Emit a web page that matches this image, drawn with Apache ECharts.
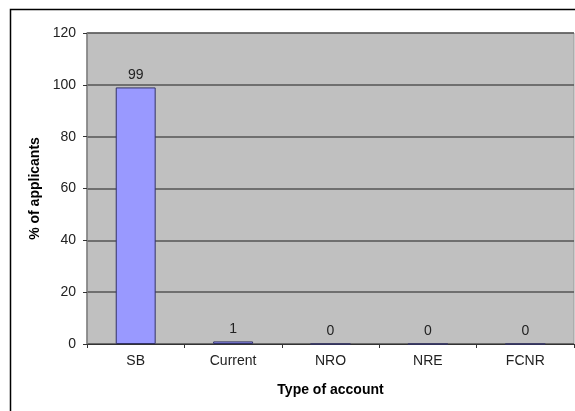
<!DOCTYPE html>
<html>
<head>
<meta charset="utf-8">
<script src="https://cdn.jsdelivr.net/npm/echarts@6/dist/echarts.min.js"></script>
<style>
  html, body { margin: 0; padding: 0; background: #fff; }
  #chart { width: 575px; height: 411px; }
</style>
</head>
<body>
<div id="chart"></div>
<script>
// Account types and share of applicants holding each
var categories = ['SB', 'Current', 'NRO', 'NRE', 'FCNR'];
var applicantShare = [99, 1, 0, 0, 0];
var yTicks = { min: 0, max: 120, interval: 20 };

var chart = echarts.init(document.getElementById('chart'), null, { renderer: 'canvas' });

var font = 'Liberation Sans, Arial, sans-serif';

chart.setOption({
  animation: false,
  backgroundColor: '#ffffff',
  graphic: [{
    type: 'rect',
    shape: { x: 10.5, y: 9.5, width: 600, height: 450 },
    style: { fill: 'none', stroke: '#000', lineWidth: 1.5 },
    silent: true,
    z: -1
  }],
  grid: {
    left: 87, right: 1, top: 33, bottom: 67,
    show: true,
    backgroundColor: '#C0C0C0',
    borderColor: '#9a9a9a',
    borderWidth: 1
  },
  xAxis: {
    type: 'category',
    data: categories,
    name: 'Type of account',
    nameLocation: 'middle',
    nameGap: 39,
    nameTextStyle: { fontFamily: font, fontSize: 14, fontWeight: 'bold', color: '#000' },
    axisLine: { show: true, lineStyle: { color: '#333', width: 1 } },
    axisTick: { show: true, length: 4, lineStyle: { color: '#333' } },
    axisLabel: { fontFamily: font, fontSize: 14, color: '#222', margin: 10 },
    splitLine: { show: false }
  },
  yAxis: {
    type: 'value',
    min: yTicks.min,
    max: yTicks.max,
    interval: yTicks.interval,
    name: '% of applicants',
    nameLocation: 'middle',
    nameGap: 45,
    nameRotate: 90,
    nameTextStyle: { fontFamily: font, fontSize: 14, fontWeight: 'bold', color: '#000' },
    axisLine: { show: true, lineStyle: { color: '#808080', width: 1.5 } },
    axisTick: { show: true, length: 4, lineStyle: { color: '#333' } },
    axisLabel: { fontFamily: font, fontSize: 14, color: '#222', margin: 11 },
    splitLine: { show: true, lineStyle: { color: '#555', width: 1.5 } }
  },
  series: [{
    type: 'bar',
    data: applicantShare,
    barWidth: '41%',
    itemStyle: { color: '#9999FF', borderColor: '#333366', borderWidth: 1 },
    label: {
      show: true,
      position: 'top',
      distance: 5,
      fontFamily: font,
      fontSize: 14,
      color: '#222'
    }
  }]
});
</script>
</body>
</html>
